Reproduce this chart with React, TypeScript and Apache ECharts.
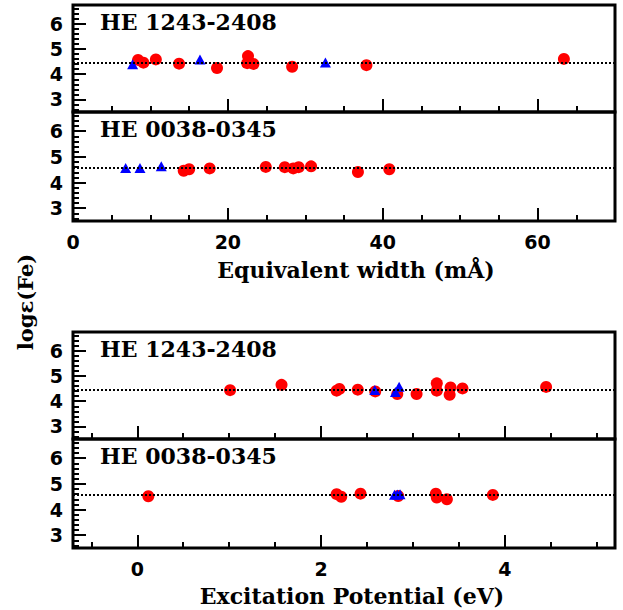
import React, { useEffect, useRef } from "react";
import * as echarts from "echarts";

// ---- data ----
const panelNames = ["HE 1243-2408", "HE 0038-0345", "HE 1243-2408", "HE 0038-0345"];
const meanFe = [4.45, 4.56, 4.45, 4.56];

// Equivalent width panels
const ewA_FeI_x = [8.4, 9.1, 10.7, 13.7, 18.6, 22.6, 22.5, 23.3, 28.3, 37.9, 63.4];
const ewA_FeI_y = [4.57, 4.46, 4.59, 4.42, 4.25, 4.72, 4.44, 4.41, 4.3, 4.36, 4.61];
const ewA_FeII_x = [7.7, 16.4, 32.6];
const ewA_FeII_y = [4.4, 4.59, 4.47];

const ewB_FeI_x = [14.3, 15.0, 17.65, 24.9, 27.35, 28.45, 29.15, 30.75, 36.8, 40.85];
const ewB_FeI_y = [4.46, 4.52, 4.55, 4.61, 4.6, 4.55, 4.6, 4.63, 4.41, 4.52];
const ewB_FeII_x = [6.8, 8.65, 11.4];
const ewB_FeII_y = [4.57, 4.57, 4.63];

// Excitation potential panels
const epA_FeI_x = [1.01, 1.57, 2.17, 2.2, 2.4, 2.59, 2.83, 3.04, 3.26, 3.26, 3.4, 3.41, 3.54, 4.45];
const epA_FeI_y = [4.44, 4.65, 4.42, 4.49, 4.46, 4.39, 4.29, 4.29, 4.71, 4.42, 4.26, 4.55, 4.51, 4.57];
const epA_FeII_x = [2.585, 2.81, 2.85];
const epA_FeII_y = [4.45, 4.37, 4.58];

const epB_FeI_x = [0.12, 2.17, 2.22, 2.43, 2.84, 3.25, 3.26, 3.37, 3.87];
const epB_FeI_y = [4.52, 4.6, 4.5, 4.62, 4.53, 4.62, 4.47, 4.4, 4.57];
const epB_FeII_x = [2.8, 2.83, 2.86];
const epB_FeII_y = [4.58, 4.59, 4.6];

// axes / ticks
const ewRange = [0, 70];
const epRange = [-0.7, 5.2];
const yRange = [2.5, 6.75];
const ewMajor = [0, 20, 40, 60];
const ewMinor = [5, 10, 15, 25, 30, 35, 45, 50, 55, 65];
const epMajor = [0, 2, 4];
const epMinor = [-0.5, 0.5, 1, 1.5, 2.5, 3, 3.5, 4.5, 5];
const yMajor = [3, 4, 5, 6];
const yMinor = [2.6, 2.8, 3.2, 3.4, 3.6, 3.8, 4.2, 4.4, 4.6, 4.8, 5.2, 5.4, 5.6, 5.8, 6.2, 6.4, 6.6];

const xTitles = ["Equivalent width (mÅ)", "Excitation Potential (eV)"];
const yTitle = "logε(Fe)";

const zip = (xs: number[], ys: number[]) => xs.map((x, i) => [x, ys[i]]);

const panels = [
  { feI: zip(ewA_FeI_x, ewA_FeI_y), feII: zip(ewA_FeII_x, ewA_FeII_y), range: ewRange, major: ewMajor, minor: ewMinor, labels: false },
  { feI: zip(ewB_FeI_x, ewB_FeI_y), feII: zip(ewB_FeII_x, ewB_FeII_y), range: ewRange, major: ewMajor, minor: ewMinor, labels: true },
  { feI: zip(epA_FeI_x, epA_FeI_y), feII: zip(epA_FeII_x, epA_FeII_y), range: epRange, major: epMajor, minor: epMinor, labels: false },
  { feI: zip(epB_FeI_x, epB_FeI_y), feII: zip(epB_FeII_x, epB_FeII_y), range: epRange, major: epMajor, minor: epMinor, labels: true },
];

const gridBoxes = [
  { top: 5, height: 107 },
  { top: 112, height: 109 },
  { top: 332, height: 107 },
  { top: 439, height: 109 },
];

const SANS = "DejaVu Sans";
const SERIF = "DejaVu Serif";

export default function App() {
  const ref = useRef<HTMLDivElement>(null);
  useEffect(() => {
    if (!ref.current) return;
    const chart = echarts.init(ref.current, undefined, { renderer: "svg" });

    const grid: any[] = [];
    const xAxis: any[] = [];
    const yAxis: any[] = [];
    const series: any[] = [];
    const graphic: any[] = [];

    const labelStyle = {
      color: "#000",
      fontFamily: SANS,
      fontWeight: "bold",
      fontSize: 19,
    };

    panels.forEach((p, i) => {
      const g = gridBoxes[i];
      grid.push({
        left: 73,
        width: 542,
        top: g.top,
        height: g.height,
        show: true,
        borderColor: "#000",
        borderWidth: 3,
        backgroundColor: "transparent",
      });
      const xBase = {
        type: "value",
        gridIndex: i,
        min: p.range[0],
        max: p.range[1],
        position: "bottom",
        axisLine: { show: false, onZero: false },
        splitLine: { show: false },
      };
      xAxis.push({
        ...xBase,
        axisTick: { show: true, inside: true, length: 13, customValues: p.major, lineStyle: { color: "#000", width: 2 } },
        axisLabel: { show: p.labels, customValues: p.major, margin: 11, ...labelStyle },
      });
      xAxis.push({
        ...xBase,
        axisTick: { show: true, inside: true, length: 6, customValues: p.minor, lineStyle: { color: "#000", width: 2 } },
        axisLabel: { show: false },
      });
      const yBase = {
        type: "value",
        gridIndex: i,
        min: yRange[0],
        max: yRange[1],
        position: "left",
        axisLine: { show: false, onZero: false },
        splitLine: { show: false },
      };
      yAxis.push({
        ...yBase,
        axisTick: { show: true, inside: true, length: 13, customValues: yMajor, lineStyle: { color: "#000", width: 2 } },
        axisLabel: { show: true, customValues: yMajor, margin: 10, ...labelStyle },
      });
      yAxis.push({
        ...yBase,
        axisTick: { show: true, inside: true, length: 6, customValues: yMinor, lineStyle: { color: "#000", width: 2 } },
        axisLabel: { show: false },
      });

      series.push({
        type: "scatter",
        xAxisIndex: 2 * i,
        yAxisIndex: 2 * i,
        symbol: "circle",
        symbolSize: 12,
        itemStyle: { color: "#ff0000", opacity: 1 },
        data: p.feI,
        z: 3,
        markLine: {
          silent: true,
          symbol: "none",
          label: { show: false },
          lineStyle: { color: "#000", width: 2, type: [2, 2] },
          data: [{ yAxis: meanFe[i] }],
        },
      });
      series.push({
        type: "scatter",
        xAxisIndex: 2 * i,
        yAxisIndex: 2 * i,
        symbol: "triangle",
        symbolSize: [11, 10],
        itemStyle: { color: "#0000ff", opacity: 1 },
        data: p.feII,
        z: 4,
      });

      graphic.push({
        type: "text",
        left: 100,
        top: g.top + 6,
        style: {
          text: panelNames[i],
          fill: "#000",
          font: `bold 22px "${SERIF}"`,
        },
      });
    });

    graphic.push({
      type: "text",
      x: 356,
      y: 270,
      style: {
        text: xTitles[0],
        fill: "#000",
        font: `bold 22px "${SERIF}"`,
        align: "center",
        verticalAlign: "middle",
      },
    });
    graphic.push({
      type: "text",
      x: 352,
      y: 596,
      style: {
        text: xTitles[1],
        fill: "#000",
        font: `bold 22px "${SERIF}"`,
        align: "center",
        verticalAlign: "middle",
      },
    });
    graphic.push({
      type: "text",
      x: 25,
      y: 302,
      rotation: Math.PI / 2,
      style: {
        text: yTitle,
        fill: "#000",
        font: `bold 21px "${SERIF}"`,
        align: "center",
        verticalAlign: "middle",
      },
    });

    chart.setOption({
      animation: false,
      backgroundColor: "#fff",
      grid,
      xAxis,
      yAxis,
      series,
      graphic,
    });
    return () => chart.dispose();
  }, []);

  return (
    <div
      ref={ref}
      style={{ position: "fixed", left: 0, top: 0, width: 623, height: 610 }}
    />
  );
}
